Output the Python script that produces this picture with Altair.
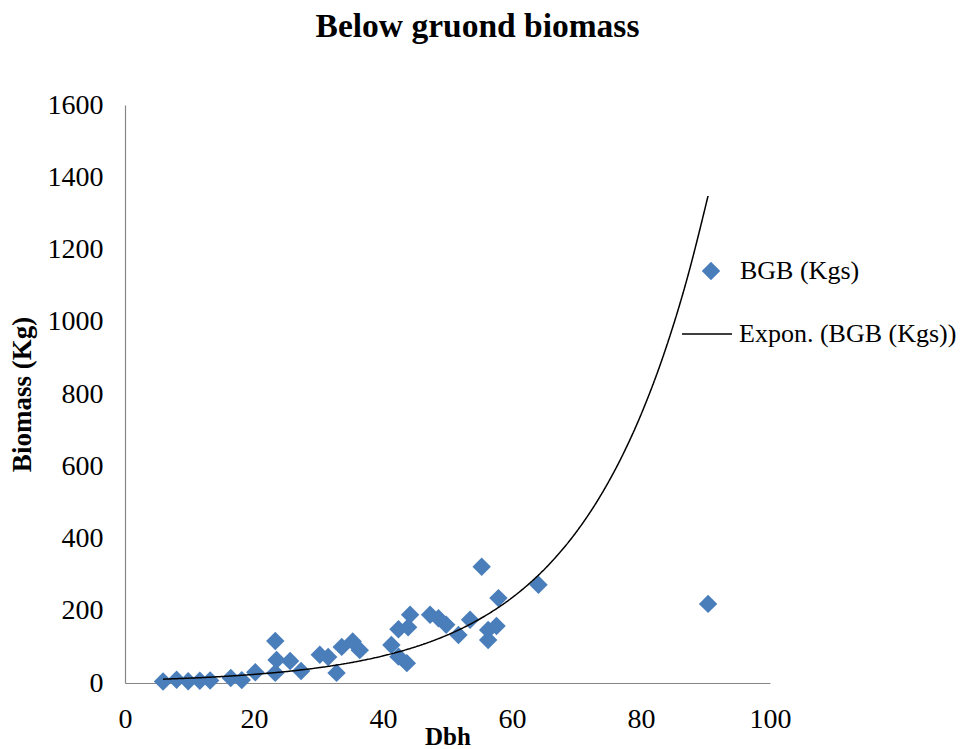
import altair as alt
import pandas as pd

# Data
dbh = [5.9, 8.0, 9.8, 11.6, 13.2, 16.4, 18.1, 20.2, 23.3, 23.5, 23.3, 25.6, 27.3,
       30.2, 31.5, 32.8, 33.6, 35.3, 36.4, 41.3, 42.4, 44.2, 43.9, 42.4, 43.7,
       47.3, 48.6, 49.8, 51.7, 53.5, 55.3, 57.9, 56.3, 57.6, 56.3, 64.1, 90.4]
bgb = [4, 9, 5, 6, 7, 14, 8, 30, 116, 64, 28, 61, 33,
       78, 72, 28, 100, 115, 91, 105, 149, 189, 154, 73, 55,
       189, 179, 161, 133, 175, 322, 235, 147, 158, 119, 272, 219]

title_text = "Below gruond biomass"
x_title = "Dbh"
y_title = "Biomass (Kg)"
series_points = "BGB (Kgs)"
series_trend = "Expon. (BGB (Kgs))"
x_ticks = [0, 20, 40, 60, 80, 100]
y_ticks = [0, 200, 400, 600, 800, 1000, 1200, 1400, 1600]

df = pd.DataFrame({"dbh": dbh, "bgb": bgb})

FONT = "Liberation Serif"
BLUE = "#4a7ebb"

x_enc = alt.X("dbh:Q", title=x_title,
              scale=alt.Scale(domain=[0, 100], nice=False),
              axis=alt.Axis(values=x_ticks, format="d", labelFlush=False))
y_enc_kw = dict(title=y_title, scale=alt.Scale(domain=[0, 1600], nice=False),
                axis=alt.Axis(values=y_ticks, format="d", labelFlush=False))

points = alt.Chart(df).transform_calculate(
    series=f"'{series_points}'"
).mark_point(filled=True, size=340, opacity=1, color=BLUE).encode(
    x=x_enc,
    y=alt.Y("bgb:Q", **y_enc_kw),
    shape=alt.Shape("series:N",
                    scale=alt.Scale(domain=[series_points], range=["diamond"]),
                    legend=alt.Legend(title=None, orient="none", legendX=573, legendY=153,
                                      symbolSize=340, symbolFillColor=BLUE,
                                      symbolStrokeWidth=0, labelOffset=16,
                                      labelFont=FONT, labelFontSize=26, labelLimit=400,
                                      labelColor="black", padding=0)),
)

trend = alt.Chart(df).transform_calculate(
    ly="log(datum.bgb)"
).transform_regression(
    "dbh", "ly", method="poly", order=1
).transform_calculate(
    fit="exp(datum.ly)", series=f"'{series_trend}'"
).mark_line(color="black", strokeWidth=1.5, interpolate="monotone").encode(
    x=alt.X("dbh:Q"),
    y=alt.Y("fit:Q"),
    strokeDash=alt.StrokeDash("series:N",
                              scale=alt.Scale(domain=[series_trend], range=[[1, 0]]),
                              legend=alt.Legend(title=None, orient="none", legendX=556, legendY=203,
                                                symbolSize=2500, symbolStrokeColor="black",
                                                symbolStrokeWidth=1.5, labelOffset=6,
                                                labelFont=FONT, labelFontSize=26, labelLimit=400,
                                                labelColor="black", padding=0)),
)

chart = alt.layer(points, trend).resolve_legend(shape="independent", strokeDash="independent").properties(
    width=645,
    height=578,
    autosize=alt.AutoSizeParams(type="none"),
    padding={"left": 125, "top": 105, "right": 210, "bottom": 66},
    title=alt.TitleParams(title_text, font=FONT, fontSize=33.5, fontWeight="bold",
                          color="black", anchor="middle", frame="group", dx=30, offset=47),
).configure_view(stroke=None).configure_axis(
    grid=False, ticks=False, domainColor="#868686", domainWidth=1.2,
    labelFont=FONT, labelFontSize=28, labelColor="black", labelPadding=22,
    titleFont=FONT, titleFontWeight="bold", titleColor="black",
).configure_axisX(titlePadding=-9, titleFontSize=25).configure_axisY(titlePadding=11, titleFontSize=27)

chart.save("out.html", embed_options={"renderer": "svg", "actions": False})
